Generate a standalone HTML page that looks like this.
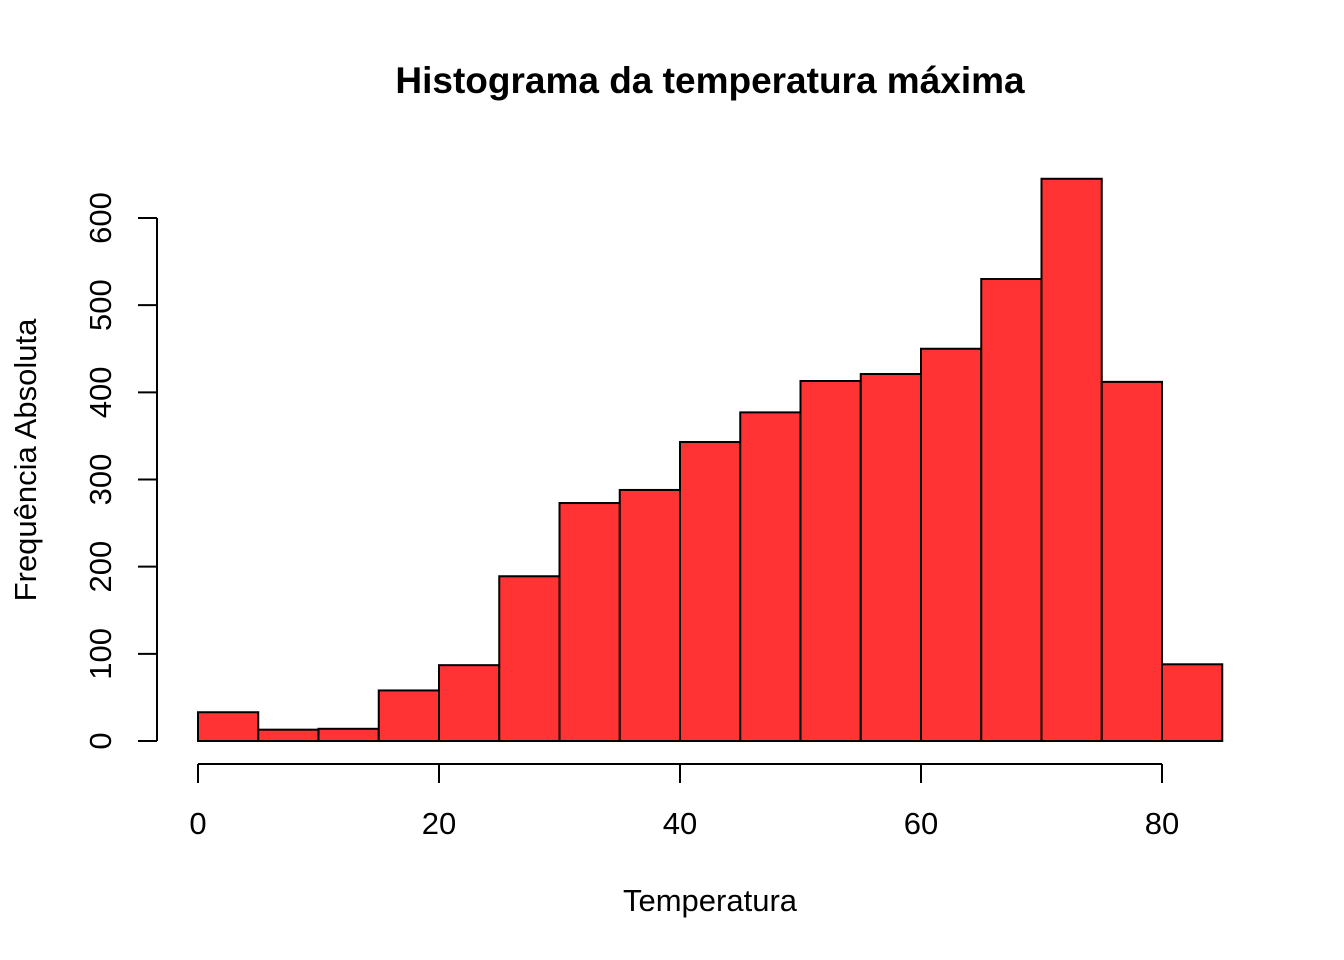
<!DOCTYPE html>
<html><head><meta charset="utf-8"><style>body{margin:0;background:#fff}svg{display:block}text{font-family:"Liberation Sans",Arial,sans-serif}</style></head>
<body>
<svg id="c" width="1344" height="960">
<text x="710" y="93" text-anchor="middle" font-size="37" font-weight="bold">Histograma da temperatura máxima</text>
<text x="710" y="911" text-anchor="middle" font-size="31">Temperatura</text>
<text transform="translate(36,460) rotate(-90)" text-anchor="middle" font-size="31">Frequência Absoluta</text>
<g id="bars"></g><g id="axes"></g>
</svg>
<script>
const binStarts=[0,5,10,15,20,25,30,35,40,45,50,55,60,65,70,75,80];
const counts=[33,13,14,58,87,189,273,288,343,377,413,421,450,530,645,412,88];
const xTicks=[0,20,40,60,80];
const yTicks=[0,100,200,300,400,500,600];
const binWidth=5;
const NS='http://www.w3.org/2000/svg';
const xs=v=>198+v*(1162-198)/80;
const ys=v=>741-v*(741-218)/600;
function mk(t,a,p){const e=document.createElementNS(NS,t);for(const k in a)e.setAttribute(k,a[k]);p.appendChild(e);return e;}
const bars=document.getElementById('bars'),axes=document.getElementById('axes');
binStarts.forEach((b,i)=>{
 const r=mk('rect',{x:xs(b),y:ys(counts[i]),width:xs(b+binWidth)-xs(b),height:ys(0)-ys(counts[i]),fill:'#ff3333',stroke:'#000','stroke-width':2},bars);
 
 
});
const xl=mk('line',{x1:xs(0),x2:xs(80),y1:764,y2:764,stroke:'#000','stroke-width':2},axes);


xTicks.forEach(t=>{
 mk('line',{x1:xs(t),x2:xs(t),y1:764,y2:783,stroke:'#000','stroke-width':2},axes);
 const tx=mk('text',{x:xs(t),y:834,'text-anchor':'middle','font-size':31},axes);tx.textContent=t;
 
 
});
const yl=mk('line',{x1:157,x2:157,y1:ys(0),y2:ys(600),stroke:'#000','stroke-width':2},axes);


yTicks.forEach(t=>{
 mk('line',{x1:138,x2:157,y1:ys(t),y2:ys(t),stroke:'#000','stroke-width':2},axes);
 const tx=mk('text',{transform:`translate(111,${ys(t)}) rotate(-90)`,'text-anchor':'middle','font-size':31},axes);tx.textContent=t;
 
 
});
</script>
</body></html>
